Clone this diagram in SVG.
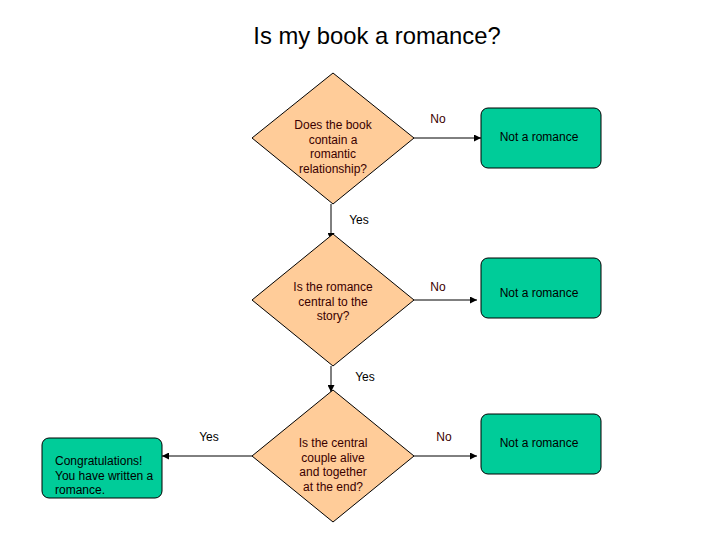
<svg xmlns="http://www.w3.org/2000/svg" width="720" height="540" viewBox="0 0 720 540">
<defs>
<style>
.dia{fill:#FFCC99;stroke:#000;stroke-width:1}
.box{fill:#00CC99;stroke:#000;stroke-width:1}
.t{font-family:"Liberation Sans",Arial,sans-serif;font-size:12px}
.dt{fill:#3a0000;text-anchor:middle}
.bt{fill:#000;text-anchor:middle}
.lbl{fill:#000}
.no{fill:#3a0000}
.ln{stroke:#000;stroke-width:1;fill:none;marker-end:url(#ah)}
</style>
<marker id="ah" markerWidth="7" markerHeight="7" refX="7" refY="3.5" orient="auto" markerUnits="userSpaceOnUse">
<path d="M0,0 L7,3.5 L0,7 z" fill="#000"/>
</marker>
</defs>
<rect width="720" height="540" fill="#fff"/>
<text x="377" y="44" text-anchor="middle" font-family="'Liberation Sans',Arial,sans-serif" font-size="23.8" fill="#000">Is my book a romance?</text>
<g id="connectors">
<path class="ln" d="M414,138 L481,138"/>
<path class="ln" d="M331,204 L331,240"/>
<path class="ln" d="M414,300 L477,300"/>
<path class="ln" d="M331,366 L331,392"/>
<path class="ln" d="M414,456 L477,456"/>
<path class="ln" d="M252,456 L162,456"/>
<text class="t no" x="438" y="123" text-anchor="middle">No</text>
<text class="t lbl" x="359" y="224" text-anchor="middle">Yes</text>
<text class="t no" x="438" y="291" text-anchor="middle">No</text>
<text class="t lbl" x="365" y="381" text-anchor="middle">Yes</text>
<text class="t no" x="444" y="441" text-anchor="middle">No</text>
<text class="t lbl" x="209" y="441" text-anchor="middle">Yes</text>
</g>
<g id="d1">
<polygon class="dia" points="333,73 414,138 333,204 252,138"/>
<text class="t dt"><tspan x="333" y="129">Does the book</tspan><tspan x="333" y="143.5">contain a</tspan><tspan x="333" y="158">romantic</tspan><tspan x="333" y="172.5">relationship?</tspan></text>
</g>
<g id="b1">
<rect class="box" x="481" y="108" width="120" height="60" rx="7"/>
<text class="t bt" x="539" y="141">Not a romance</text>
</g>
<g id="d2">
<polygon class="dia" points="333,234 414,300 333,366 252,300"/>
<text class="t dt"><tspan x="333" y="291">Is the romance</tspan><tspan x="333" y="305.5">central to the</tspan><tspan x="333" y="320">story?</tspan></text>
</g>
<g id="b2">
<rect class="box" x="481" y="258" width="120" height="60" rx="7"/>
<text class="t bt" x="539" y="297">Not a romance</text>
</g>
<g id="d3">
<polygon class="dia" points="333,390 414,456 333,522 252,456"/>
<text class="t dt"><tspan x="333" y="447">Is the central</tspan><tspan x="333" y="461.5">couple alive</tspan><tspan x="333" y="476">and together</tspan><tspan x="333" y="490.5">at the end?</tspan></text>
</g>
<g id="b3">
<rect class="box" x="481" y="414" width="120" height="60" rx="7"/>
<text class="t bt" x="539" y="447">Not a romance</text>
</g>
<g id="b4">
<rect class="box" x="42" y="438" width="120" height="60" rx="7"/>
<text class="t" fill="#000"><tspan x="55" y="465">Congratulations!</tspan><tspan x="55" y="479.5">You have written a</tspan><tspan x="55" y="494">romance.</tspan></text>
</g>
</svg>
